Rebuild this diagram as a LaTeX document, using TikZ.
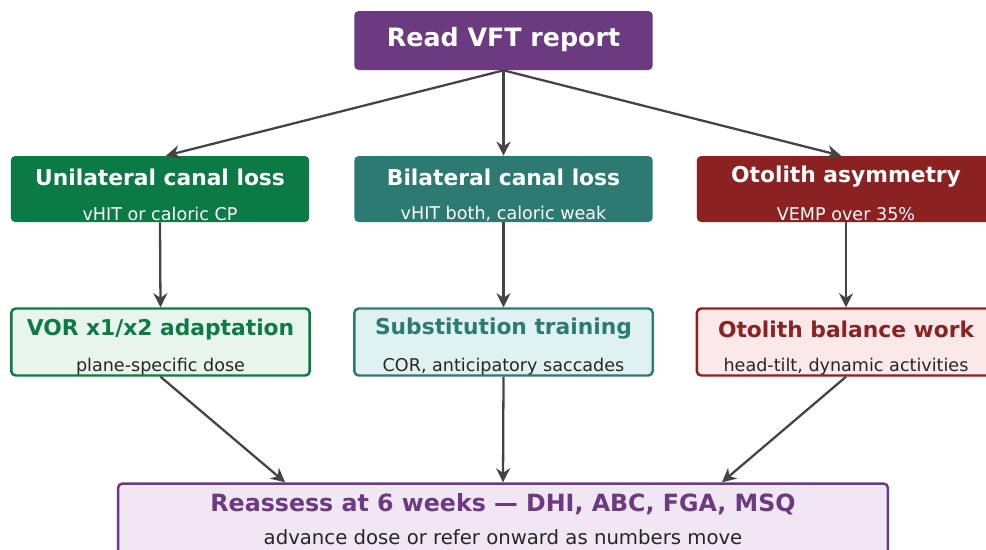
\documentclass[tikz,border=0pt]{standalone}
\usepackage{fontspec}
\setmainfont{DejaVu Sans}
\usetikzlibrary{arrows.meta}

\definecolor{vftpurple}{RGB}{108,58,128}
\definecolor{vftgreen}{RGB}{12,122,68}
\definecolor{vftteal}{RGB}{45,122,115}
\definecolor{vftred}{RGB}{140,33,33}
\definecolor{vftgreenbg}{RGB}{232,245,236}
\definecolor{vfttealbg}{RGB}{224,241,241}
\definecolor{vftredbg}{RGB}{251,233,233}
\definecolor{vftpurplebg}{RGB}{241,230,243}
\definecolor{vftarrow}{RGB}{68,68,68}

\begin{document}
\begin{tikzpicture}[x=0.02cm, y=-0.02cm,
    darkbox/.style={rounded corners=2.5pt, minimum width=5.97cm, minimum height=1.32cm},
    lightbox/.style={rounded corners=2.5pt, line width=1.4pt, minimum width=5.97cm, minimum height=1.34cm},
    head/.style={font=\bfseries\fontsize{12.4}{14}\selectfont},
    sub/.style={font=\fontsize{10}{12}\selectfont},
    flow/.style={draw=vftarrow, line width=1.3pt, -{Stealth[length=8pt, width=8pt]}}]

    % Frame
    \clip (0,0) rectangle (986,549);

    % Top box
    \node[darkbox, fill=vftpurple, minimum height=1.18cm] (read) at (503.5,40.5) {};
    \node[head, white, font=\bfseries\fontsize{14.4}{16}\selectfont] (readt) at (503.5,40) {Read VFT report};

    % Findings
    \node[darkbox, fill=vftgreen] (uni) at (160,189) {};
    \node[head, white] (unit) at (160,177) {Unilateral canal loss};
    \node[sub, white] (unis) at (160,214) {vHIT or caloric CP};

    \node[darkbox, fill=vftteal] (bil) at (503.5,189) {};
    \node[head, white] (bilt) at (503.5,177) {Bilateral canal loss};
    \node[sub, white] (bils) at (503.5,214) {vHIT both, caloric weak};

    \node[darkbox, fill=vftred] (oto) at (846,189) {};
    \node[head, white] (otot) at (846,177) {Otolith asymmetry};
    \node[sub, white] (otos) at (846,214) {VEMP over 35\%};

    % Training
    \node[lightbox, draw=vftgreen, fill=vftgreenbg] (vor) at (160.5,342) {};
    \node[head, vftgreen] (vort) at (160.5,329) {VOR x1/x2 adaptation};
    \node[sub, black!85] (vors) at (160.5,367) {plane-specific dose};

    \node[lightbox, draw=vftteal, fill=vfttealbg] (subst) at (503.5,342) {};
    \node[head, vftteal] (substt) at (503.5,329) {Substitution training};
    \node[sub, black!85] (substs) at (503.5,367) {COR, anticipatory saccades};

    \node[lightbox, draw=vftred, fill=vftredbg] (otb) at (846,342) {};
    \node[head, vftred] (otbt) at (846,329) {Otolith balance work};
    \node[sub, black!85] (otbs) at (846,367) {head-tilt, dynamic activities};

    % Reassess
    \node[lightbox, draw=vftpurple, fill=vftpurplebg, minimum width=15.4cm, minimum height=1.5cm] (reas) at (503,521) {};
    \node[head, vftpurple, font=\bfseries\fontsize{13.5}{15}\selectfont] (reast) at (503,504) {Reassess at 6 weeks — DHI, ABC, FGA, MSQ};
    \node[sub, black!85, font=\fontsize{11.2}{13}\selectfont] (reass) at (503,537) {advance dose or refer onward as numbers move};

    % Arrows
    \draw[flow] (read.south) -- ([xshift=0.12cm]uni.north);
    \draw[flow] (read.south) -- (bil.north);
    \draw[flow] (read.south) -- ([xshift=-0.1cm]oto.north);
    \draw[flow] (uni.south) -- (vor.north);
    \draw[flow] (bil.south) -- (subst.north);
    \draw[flow] (oto.south) -- (otb.north);
    \draw[flow] (vor.south) -- ([xshift=-4.36cm]reas.north);
    \draw[flow] (subst.south) -- (reas.north);
    \draw[flow] (otb.south) -- ([xshift=4.38cm]reas.north);

\end{tikzpicture}
\end{document}
